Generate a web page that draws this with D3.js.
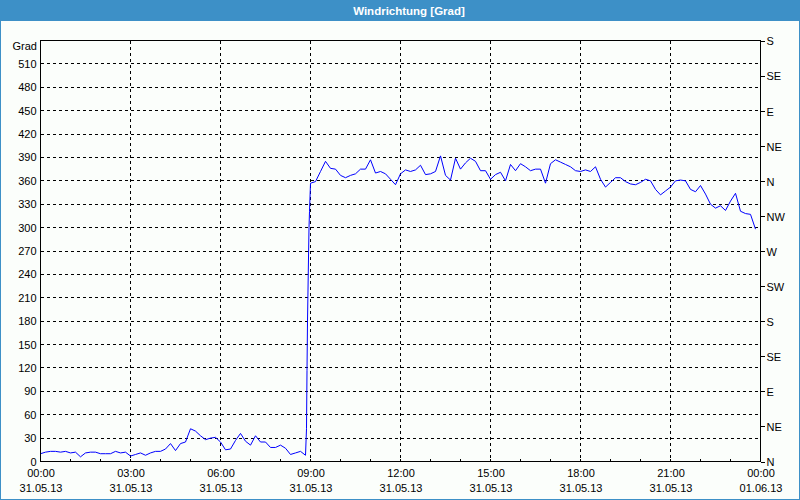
<!DOCTYPE html>
<html>
<head>
<meta charset="utf-8">
<script src="https://cdn.jsdelivr.net/npm/d3@7/dist/d3.min.js"></script>
<style>
html,body{margin:0;padding:0;background:#fff;}
svg{display:block;}
text{font-family:"Liberation Sans",Arial,sans-serif;font-size:11px;fill:#000;}
</style>
</head>
<body>
<svg id="chart" width="800" height="500"></svg>
<script>
const title = "Windrichtung [Grad]";
const yUnit = "Grad";
const day = "2013-05-31";
const times = [
"00:00","00:10","00:20","00:30","00:40","00:50",
"01:00","01:10","01:20","01:30","01:40","01:50",
"02:00","02:10","02:20","02:30","02:40","02:50",
"03:00","03:10","03:20","03:30","03:40","03:50",
"04:00","04:10","04:20","04:30","04:40","04:50",
"05:00","05:10","05:20","05:30","05:40","05:50",
"06:00","06:10","06:20","06:30","06:40","06:50",
"07:00","07:10","07:20","07:30","07:40","07:50",
"08:00","08:10","08:20","08:30","08:40","08:50",
"08:52","08:53","08:54","08:57","08:58",
"09:00","09:10","09:20","09:30","09:40","09:50",
"10:00","10:10","10:20","10:30","10:40","10:50",
"11:00","11:10","11:20","11:30","11:40","11:50",
"12:00","12:10","12:20","12:30","12:40","12:50",
"13:00","13:10","13:20","13:30","13:40","13:50",
"14:00","14:10","14:20","14:30","14:40","14:50",
"15:00","15:10","15:20","15:30","15:40","15:50",
"16:00","16:10","16:20","16:30","16:40","16:50",
"17:00","17:10","17:20","17:30","17:40","17:50",
"18:00","18:10","18:20","18:30","18:40","18:50",
"19:00","19:10","19:20","19:30","19:40","19:50",
"20:00","20:10","20:20","20:30","20:40","20:50",
"21:00","21:10","21:20","21:30","21:40","21:50",
"22:00","22:10","22:20","22:30","22:40","22:50",
"23:00","23:10","23:20","23:30","23:40","23:50"
];
const values = [
10,12,13,13,12,13,
11,12,6,11,12,12,
10,10,10,13,11,12,
7,9,11,8,11,13,
13,16,23,14,23,25,
42,39,33,28,30,31,
25,15,16,27,36,26,
21,33,25,25,18,18,
21,17,9,11,13,8,
42,117,180,300,321,
357,359,372,385,376,375,
367,364,367,369,375,375,
387,370,372,369,362,355,
369,374,372,374,380,368,
369,372,392,367,361,389,
375,383,389,385,373,373,
362,368,371,360,381,373,
382,378,373,375,375,357,
382,387,384,381,378,373,
372,374,372,378,362,352,
358,364,364,359,356,355,
358,362,360,349,342,347,
352,360,361,360,349,346,
354,343,330,325,328,322,
334,344,321,318,317,298
];
const leftTicks = [0,30,60,90,120,150,180,210,240,270,300,330,360,390,420,450,480,510];
const rightTickValues = [0,45,90,135,180,225,270,315,360,405,450,495,540];
const rightTickLabels = ["N","NE","E","SE","S","SW","W","NW","N","NE","E","SE","S"];
const yMax = 540;

const parse = d3.timeParse("%Y-%m-%d %H:%M");
const data = times.map((t,i)=>({t:parse(day+" "+t), v:values[i]}));
const t0 = parse(day+" 00:00");
const t1 = d3.timeDay.offset(t0,1);

const svg = d3.select("#chart");
const W=800,H=500;
const L=40.5,R=760.5,T=40.5,B=461.5;
const FONT="'Liberation Sans',Arial,sans-serif";

// background & frame
svg.append("rect").attr("x",0).attr("y",0).attr("width",W).attr("height",H).attr("fill","#fbfefb");
svg.append("rect").attr("x",0).attr("y",0).attr("width",W).attr("height",21).attr("fill","#3d90c7");
svg.append("rect").attr("x",0.5).attr("y",0.5).attr("width",W-1).attr("height",H-1)
  .attr("fill","none").attr("stroke","#3d90c7").attr("stroke-width",1);
svg.append("text").attr("x",409).attr("y",14.5).attr("text-anchor","middle")
  .style("font-weight","bold").style("font-size","11.5px").style("fill","#fff").text(title);

const x = d3.scaleTime().domain([t0,t1]).range([L,R]);
const y = d3.scaleLinear().domain([0,yMax]).range([B,T]);

// grid
const g = svg.append("g");
g.selectAll("line.hg").data(leftTicks.filter(v=>v>0)).join("line")
  .attr("x1",L).attr("x2",R).attr("y1",d=>Math.round(y(d)-0.5)+0.5).attr("y2",d=>Math.round(y(d)-0.5)+0.5)
  .attr("stroke","#000").attr("stroke-dasharray","3,3").attr("shape-rendering","crispEdges");
const majors = d3.timeHour.every(3).range(t0, d3.timeMinute.offset(t1,1));
g.selectAll("line.vg").data(majors.filter(d=>+d>+t0 && +d<+t1)).join("line")
  .attr("x1",d=>x(d)).attr("x2",d=>x(d)).attr("y1",T).attr("y2",B)
  .attr("stroke","#000").attr("stroke-dasharray","3,3").attr("shape-rendering","crispEdges");

// minor hourly ticks (inside, upward)
const hours = d3.timeHour.every(1).range(t0, t1);
g.selectAll("line.mt").data(hours).join("line")
  .attr("x1",d=>x(d)).attr("x2",d=>x(d)).attr("y1",B).attr("y2",B-3)
  .attr("stroke","#000").attr("shape-rendering","crispEdges");

// line
const line = d3.line().x(d=>x(d.t)).y(d=>y(d.v));
svg.append("path").datum(data).attr("d",line).attr("fill","none")
  .attr("stroke","#0000ff").attr("stroke-width",1);

// frame of plot
svg.append("rect").attr("x",L).attr("y",T).attr("width",R-L).attr("height",B-T)
  .attr("fill","none").attr("stroke","#000").attr("shape-rendering","crispEdges");

// left axis
const ya = d3.axisLeft(y).tickValues(leftTicks).tickSize(0).tickPadding(4).tickFormat(d3.format("d"));
const yg = svg.append("g").attr("transform",`translate(${L},0)`).call(ya);
yg.select(".domain").remove();
yg.selectAll("text").style("font-family",FONT).style("font-size","11px").attr("fill","#000");
svg.append("text").attr("x",37).attr("y",50).attr("text-anchor","end").text(yUnit);

// right axis
const ra = d3.axisRight(y).tickValues(rightTickValues).tickSize(4).tickPadding(2)
  .tickFormat((d,i)=>rightTickLabels[i]);
const rg = svg.append("g").attr("transform",`translate(${R},0)`).call(ra);
rg.select(".domain").remove();
rg.selectAll("line").attr("stroke","#000").attr("shape-rendering","crispEdges");
rg.selectAll("text").style("font-family",FONT).style("font-size","11px").attr("fill","#000").attr("dy","0.4em");

// bottom axis two-line labels
const xa = d3.axisBottom(x).tickValues(majors).tickSize(0).tickPadding(8).tickFormat(d3.timeFormat("%H:%M"));
const xg = svg.append("g").attr("transform",`translate(0,${B})`).call(xa);
xg.select(".domain").remove();
xg.selectAll("text").style("font-family",FONT).style("font-size","11px").attr("fill","#000");
const xa2 = d3.axisBottom(x).tickValues(majors).tickSize(0).tickPadding(23).tickFormat(d3.timeFormat("%d.%m.%y"));
const xg2 = svg.append("g").attr("transform",`translate(0,${B})`).call(xa2);
xg2.select(".domain").remove();
xg2.selectAll("text").style("font-family",FONT).style("font-size","11px").attr("fill","#000");
</script>
</body>
</html>
